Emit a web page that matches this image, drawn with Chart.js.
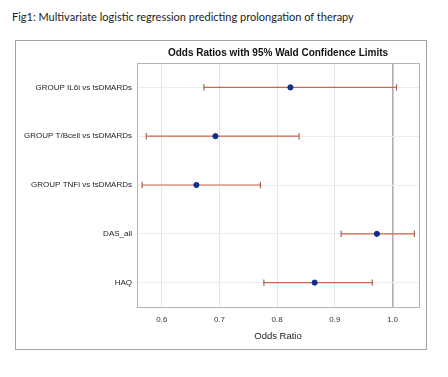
<!DOCTYPE html>
<html>
<head>
<meta charset="utf-8">
<script src="https://cdn.jsdelivr.net/npm/chart.js@4"></script>
<style>
  body { margin: 0; background: #fff; width: 448px; height: 377px; position: relative; overflow: hidden; }
  #caption { position: absolute; left: 12px; top: 10px; font-family: Lato, "Open Sans", sans-serif; font-size: 11px; color: #222; white-space: nowrap; }
  #frame { position: absolute; left: 15px; top: 40px; width: 410px; height: 308px; border: 1px solid #a4a4a4; }
  #chart { position: absolute; left: 0; top: 0; }
</style>
</head>
<body>
<div id="caption">Fig1: Multivariate logistic regression predicting prolongation of therapy</div>
<div id="frame"><canvas id="chart" width="410" height="308"></canvas></div>
<script>
// effects, top to bottom
var effects = ['GROUP IL6i vs tsDMARDs', 'GROUP T/Bcell vs tsDMARDs', 'GROUP TNFi vs tsDMARDs', 'DAS_all', 'HAQ'];
var oddsRatio = [0.823, 0.693, 0.660, 0.973, 0.865];
var lowerCL = [0.673, 0.573, 0.566, 0.911, 0.777];
var upperCL = [1.007, 0.838, 0.771, 1.038, 0.965];
var xTicks = [0.6, 0.7, 0.8, 0.9, 1.0];

var FONT = '"Liberation Sans", Arial, sans-serif';

var points = effects.map(function (e, i) { return {x: oddsRatio[i], y: e}; });

// one small line dataset per effect for the wald limits
var limitSets = effects.map(function (e, i) {
    return {
        type: 'line',
        data: [{x: lowerCL[i], y: e}, {x: upperCL[i], y: e}],
        borderColor: '#c9694f',
        borderWidth: 1.2,
        pointStyle: 'line',
        pointRotation: 90,
        pointRadius: 3.2,
        pointBorderColor: '#a5634f',
        pointBorderWidth: 1.2,
        pointHoverRadius: 3.2,
        fill: false,
        order: 1
    };
});

var plotFrame = {
    id: 'plotFrame',
    afterDraw: function (chart) {
        var a = chart.chartArea, ctx = chart.ctx;
        ctx.save();
        ctx.strokeStyle = '#b4b4b4';
        ctx.lineWidth = 1;
        ctx.strokeRect(Math.round(a.left) + 0.5, Math.round(a.top) + 0.5, Math.round(a.right - a.left), Math.round(a.bottom - a.top));
        ctx.restore();
    }
};

new Chart(document.getElementById('chart'), {
    type: 'scatter',
    data: {
        datasets: [{
            data: points,
            backgroundColor: '#102f8c',
            borderColor: '#102f8c',
            pointRadius: 2.6,
            pointHoverRadius: 2.6,
            order: 0
        }].concat(limitSets)
    },
    options: {
        responsive: false,
        animation: false,
        events: [],
        layout: { padding: { left: 0, right: 7, top: 0, bottom: 0 } },
        plugins: {
            legend: { display: false },
            tooltip: { enabled: false }
        },
        scales: {
            x: {
                type: 'linear',
                min: 0.557,
                max: 1.046,
                afterBuildTicks: function (s) { s.ticks = xTicks.map(function (v) { return {value: v}; }); },
                afterFit: function (s) { s.height = 42; },
                ticks: {
                    maxRotation: 0,
                    padding: 8,
                    color: '#333',
                    font: { family: FONT, size: 8 },
                    callback: function (v) { return Number(v).toFixed(1); }
                },
                grid: {
                    drawTicks: false,
                    color: function (c) { return c.tick && c.tick.value === 1 ? '#b0b0b0' : '#e6e6e6'; },
                    lineWidth: function (c) { return c.tick && c.tick.value === 1 ? 1.6 : 1; }
                },
                border: { display: false },
                title: {
                    display: true,
                    text: 'Odds Ratio',
                    color: '#222',
                    font: { family: FONT, size: 9.5 },
                    padding: { top: 0, bottom: 7 }
                }
            },
            // top axis only carries the plot title, centred over the plot area
            xTop: {
                type: 'linear',
                position: 'top',
                min: 0.557,
                max: 1.046,
                afterFit: function (s) { s.height = 22; },
                ticks: { display: false },
                grid: { display: false, drawTicks: false },
                border: { display: false },
                title: {
                    display: true,
                    text: 'Odds Ratios with 95% Wald Confidence Limits',
                    color: '#111',
                    font: { family: FONT, size: 10, weight: 'bold', lineHeight: 1.2 },
                    padding: { top: 6, bottom: 0 }
                }
            },
            y: {
                type: 'category',
                labels: effects,
                offset: true,
                afterFit: function (s) { s.width = 121; },
                ticks: {
                    padding: 5,
                    color: '#222',
                    font: { family: FONT, size: 8 }
                },
                grid: { drawTicks: false, color: '#ececec', offset: false },
                border: { display: false }
            }
        }
    },
    plugins: [plotFrame]
});
</script>
</body>
</html>
